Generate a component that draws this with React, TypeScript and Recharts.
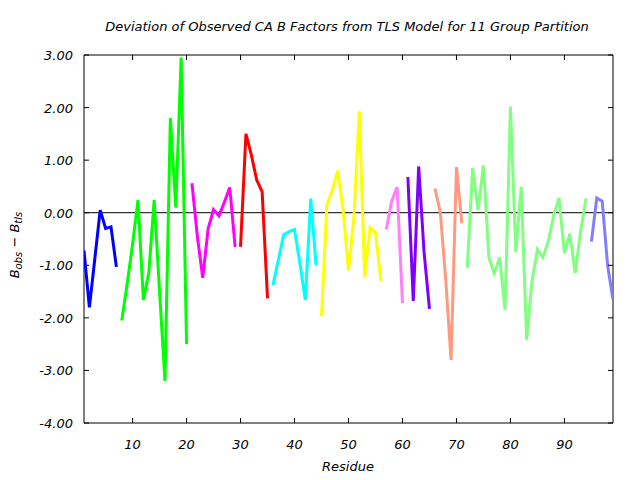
import { LineChart, Line, XAxis, YAxis, ReferenceLine, ReferenceArea } from "recharts";

// one array of values per TLS group, starting residue given separately
const groupStarts = [1, 8, 21, 30, 36, 45, 57, 61, 66, 72, 95];
const groupColors = [
  "#0000ff", "#00ff00", "#ff00ff", "#ff0000", "#00ffff", "#ffff00",
  "#ff80ff", "#8000ff", "#ff9980", "#80ff80", "#8080ff",
];

const blue = [-0.72, -1.8, -0.88, 0.05, -0.3, -0.27, -1.03];
const green = [-2.05, -1.35, -0.6, 0.24, -1.66, -1.15, 0.24, -1.5, -3.2, 1.8, 0.1, 2.95, -2.5];
const magenta = [0.56, -0.45, -1.24, -0.3, 0.06, -0.06, 0.2, 0.48, -0.65];
const red = [-0.65, 1.5, 1.1, 0.62, 0.4, -1.63];
const cyan = [-1.38, -0.9, -0.42, -0.36, -0.32, -0.96, -1.66, 0.27, -1.0];
const yellow = [-1.97, 0.15, 0.42, 0.8, 0.05, -1.1, -0.1, 1.93, -1.22, -0.28, -0.38, -1.3];
const violet = [-0.32, 0.22, 0.49, -1.72];
const purple = [0.68, -1.68, 0.88, -0.75, -1.83];
const salmon = [0.46, 0.02, -1.25, -2.8, 0.87, -0.2];
const lightGreen = [
  -1.05, 0.85, 0.05, 0.9, -0.85, -1.15, -0.85, -1.85, 2.02, -0.75, 0.49, -2.42,
  -1.3, -0.7, -0.85, -0.55, -0.05, 0.28, -0.77, -0.4, -1.15, -0.35, 0.27,
];
const slate = [-0.55, 0.28, 0.22, -1.0, -1.65];

const groups = [blue, green, magenta, red, cyan, yellow, violet, purple, salmon, lightGreen, slate];

const xTicks = [10, 20, 30, 40, 50, 60, 70, 80, 90];
const yTicks = [-4, -3, -2, -1, 0, 1, 2, 3];

const PLOT_LEFT = 84;
const PLOT_RIGHT = 613;
const PLOT_TOP = 55;
const PLOT_BOTTOM = 423;
const FONT = "'DejaVu Sans', sans-serif";

const series = groups.map((vals, g) =>
  vals.map((v, i) => ({ res: groupStarts[g] + i, dev: v }))
);

function XTick(props: any) {
  const { x, y, payload } = props;
  return (
    <g>
      <line x1={x} x2={x} y1={y} y2={y - 5} stroke="#000" />
      <line x1={x} x2={x} y1={PLOT_TOP} y2={PLOT_TOP + 5} stroke="#000" />
      <text x={x} y={y + 26} textAnchor="middle" fontSize={13} fontStyle="italic" fontFamily={FONT} fill="#000">
        {payload.value}
      </text>
    </g>
  );
}

function YTick(props: any) {
  const { x, y, payload } = props;
  return (
    <g>
      <line x1={x} x2={x + 5} y1={y} y2={y} stroke="#000" />
      <line x1={PLOT_RIGHT} x2={PLOT_RIGHT - 5} y1={y} y2={y} stroke="#000" />
      <text x={x - 11} y={y + 5} textAnchor="end" fontSize={13} fontStyle="italic" fontFamily={FONT} fill="#000">
        {payload.value.toFixed(2)}
      </text>
    </g>
  );
}

export default function App() {
  return (
    <div style={{ position: "absolute", left: 0, top: 0, width: 640, height: 480, background: "#fff" }}>
      <LineChart
        width={640}
        height={480}
        margin={{ top: PLOT_TOP, right: 640 - PLOT_RIGHT, bottom: 480 - PLOT_BOTTOM - 50, left: 0 }}
      >
        <XAxis
          dataKey="res"
          type="number"
          domain={[1, 99]}
          ticks={xTicks}
          allowDataOverflow
          axisLine={false}
          tickLine={false}
          tickSize={0}
          tickMargin={0}
          height={50}
          tick={<XTick />}
          allowDuplicatedCategory={false}
        />
        <YAxis
          type="number"
          domain={[-4, 3]}
          ticks={yTicks}
          allowDataOverflow
          axisLine={false}
          tickLine={false}
          tickSize={0}
          tickMargin={0}
          width={PLOT_LEFT}
          tick={<YTick />}
        />
        <ReferenceArea x1={1} x2={99} y1={-4} y2={3} fill="none" stroke="#000" strokeWidth={1} ifOverflow="visible" />
        <ReferenceLine y={0} stroke="#000" strokeWidth={1} />
        {series.map((d, g) => (
          <Line
            key={g}
            data={d}
            dataKey="dev"
            type="linear"
            stroke={groupColors[g]}
            strokeWidth={3}
            dot={false}
            activeDot={false}
            isAnimationActive={false}
          />
        ))}
      </LineChart>
      <svg width={640} height={480} style={{ position: "absolute", left: 0, top: 0, pointerEvents: "none" }}>
        <text x={347} y={31} textAnchor="middle" fontSize={13} fontStyle="italic" fontFamily={FONT}>
          Deviation of Observed CA B Factors from TLS Model for 11 Group Partition
        </text>
        <text x={348} y={471} textAnchor="middle" fontSize={13} fontStyle="italic" fontFamily={FONT}>
          Residue
        </text>
        <text transform="translate(19,245) rotate(-90)" textAnchor="middle" fontSize={13} fontStyle="italic" fontFamily={FONT}>
          B<tspan fontSize={10} dy={3}>obs</tspan>
          <tspan dy={-3}> − B</tspan>
          <tspan fontSize={10} dy={3}>tls</tspan>
        </text>
      </svg>
    </div>
  );
}
